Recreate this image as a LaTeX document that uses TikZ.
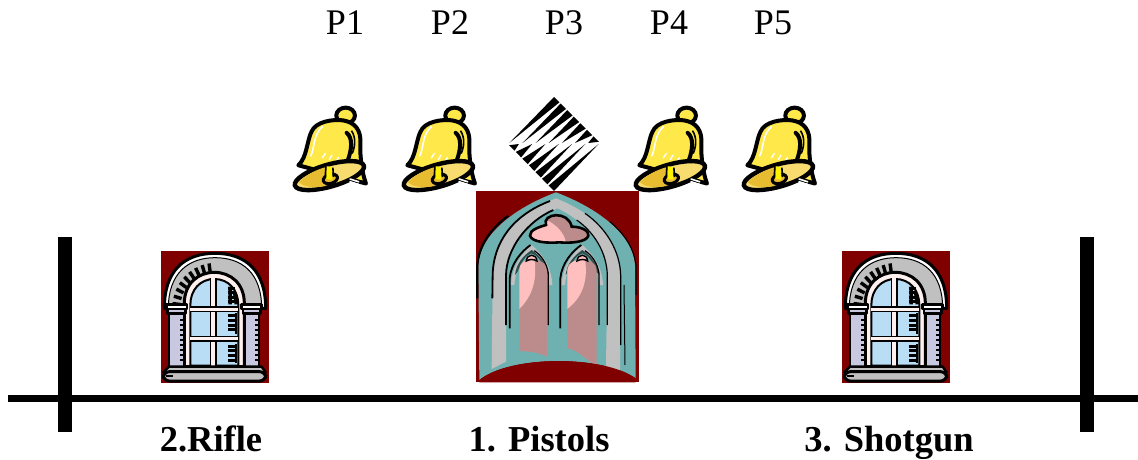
\documentclass[tikz,border=0pt]{standalone}
\usepackage{fontspec}
\setmainfont{Liberation Serif}
\definecolor{wred}{HTML}{800000}
\definecolor{wteal}{HTML}{6FB0B0}
\definecolor{wgrey}{HTML}{C0C0C0}
\definecolor{wrose}{HTML}{BC8C8C}
\definecolor{wpink}{HTML}{FFBFBF}
\definecolor{wsky}{HTML}{B9DDF5}
\definecolor{wcol}{HTML}{C8C8E0}
\definecolor{wframe}{HTML}{FFF0F0}
\definecolor{bellY}{HTML}{FFE84A}
\definecolor{bellD}{HTML}{E8BC30}
\definecolor{bellP}{HTML}{F8DC70}
\tikzset{
  plabel/.style={font=\fontsize{36}{40}\selectfont,anchor=base,inner sep=0pt},
  rangelabel/.style={font=\fontsize{36.5}{40}\selectfont\bfseries,anchor=base,inner sep=0pt},
  axisbar/.style={fill=black,draw=none},
  ink/.style={draw=black,line width=#1,line join=round,line cap=round},
  bell/.pic={
    \begin{scope}[scale=0.345]
      \draw[black,line width=4,fill=bellY] (167,48) ellipse [x radius=27,y radius=23];
      \draw[black,line width=4,line join=round,fill=bellY] (30,192) .. controls (55,170) and (55,120) .. (68,95) .. controls (80,65) and (130,58) .. (160,62) .. controls (195,68) and (212,90) .. (210,130) .. controls (208,170) and (215,215) .. (226,245) -- cycle;
      \draw[white,line width=1.6,line cap=round] (66,165) .. controls (78,140) and (72,105) .. (100,80);
      \foreach \xa/\ya/\xb/\yb in {100/170/108/158,120/175/127/163,140/180/146/170,160/186/165/176}{
        \draw[white,line width=1.4,line cap=round] (\xa,\ya) -- (\xb,\yb);
      }
      \draw[black,line width=4,line cap=round] (170,98) .. controls (188,112) and (185,145) .. (174,176);
      \draw[black,line width=1.6] (184,92) .. controls (198,112) and (194,140) .. (186,158);
      \draw[black,line width=4.4,fill=bellP,rotate around={16:(120,222)}] (120,222) ellipse [x radius=104,y radius=32];
      \fill[bellD,rotate around={16:(120,222)}] (30,216) .. controls (60,198) and (100,194) .. (125,196) -- (100,248) .. controls (70,245) and (40,235) .. (30,216) -- cycle;
      \foreach \yy in {232,240,248}{
        \draw[white,line width=1.6,line cap=round] (180,\yy) -- (205,{\yy+8});
      }
      \draw[black,line width=3,fill=bellD,rotate around={16:(120,222)}] (120,232) ellipse [x radius=21,y radius=13];
      \fill[yellow] (112,195) -- (111,232) -- (129,234) -- (128,198) -- cycle;
      \draw[black,line width=1.6] (110,196) -- (108,224) (130,199) -- (132,226);
    \end{scope}
  },
  smallwin/.pic={
    \begin{scope}[scale=1/3]
      \fill[wred] (18,18) rectangle (341,413);
      \draw[ink=3,fill=white] (28,190) .. controls (28,75) and (90,25) .. (180,25) .. controls (270,25) and (332,75) .. (332,190) -- cycle;
      \draw[ink=1,fill=wgrey] (40,190) .. controls (40,85) and (100,38) .. (180,38) .. controls (262,38) and (320,85) .. (320,190) -- cycle;
      \foreach \a in {0,...,8}{
        \draw[black,line width=3.4,line cap=butt] ({180-128*cos(6+\a*9.5)},{190-136*sin(6+\a*9.5)}) -- ({180-104*cos(6+\a*9.5)},{190-110*sin(6+\a*9.5)});
      }
      \draw[ink=3,fill=wframe] (88,365) -- (88,175) .. controls (88,115) and (130,82) .. (178,82) .. controls (226,82) and (268,115) .. (268,175) -- (268,365) -- cycle;
      \draw[ink=2,fill=wsky] (106,362) -- (106,180) .. controls (106,135) and (135,102) .. (178,102) .. controls (221,102) and (250,135) .. (250,180) -- (250,362) -- cycle;
      \fill[wframe] (168,100) rectangle (182,362);
      \draw[black,line width=1.4] (167,100) -- (167,362) (183,100) -- (183,362);
      \fill[wframe] (106,186) rectangle (250,200);
      \fill[wframe] (106,274) rectangle (250,288);
      \draw[black,line width=1.4] (106,186) -- (250,186) (106,200) -- (250,200) (106,274) -- (250,274) (106,288) -- (250,288);
      \draw[black,line width=3.5] (238,140) .. controls (240,150) and (243,165) .. (244,178) (225,125) -- (225,178);
      \foreach \yy in {130,143,156,169} {\draw[black,line width=3] (218,\yy) -- (240,\yy);}
      \fill[black] (240,205) rectangle (246,266);
      \foreach \yy in {212,226,240,254} {\draw[black,line width=3] (220,\yy) -- (242,\yy);}
      \fill[black] (240,296) rectangle (246,355);
      \foreach \yy in {303,317,331,345} {\draw[black,line width=3] (220,\yy) -- (242,\yy);}
      \foreach \xx/\ww in {42/46,268/44}{
        \draw[ink=2.4,fill=wcol] (\xx,205) rectangle ({\xx+\ww},372);
        \draw[ink=2.4,fill=wcol] ({\xx-4},192) rectangle ({\xx+\ww+4},206);
        \draw[ink=2.4,fill=white] ({\xx-8},178) rectangle ({\xx+\ww+8},192);
      }
      \foreach \yy in {225,240,255,270,285,300,315,330,345}{
        \draw[black,line width=1.6] (76,\yy) -- (88,\yy);
        \draw[black,line width=1.6] (300,\yy) -- (312,\yy);
      }
      \draw[ink=2.4,fill=wgrey] (42,365) -- (320,365) -- (332,382) -- (25,382) -- cycle;
      \draw[ink=3,fill=wgrey,rounded corners=6] (25,380) rectangle (332,408);
      \fill[black] (32,390) rectangle (54,397);
    \end{scope}
  },
  bigwin/.pic={
    \begin{scope}[scale=1/3]
      \fill[wred] (18,18) rectangle (507,592);
      \fill[wteal] (28,585) -- (25,240) .. controls (30,150) and (130,70) .. (258,22) .. controls (385,70) and (490,150) .. (495,240) -- (497,580) .. controls (400,510) and (120,510) .. (28,585) -- cycle;
      \draw[black,line width=2.2] (22,340) -- (22,240) .. controls (27,175) and (70,125) .. (115,92);
      \draw[black,line width=1] (498,330) -- (498,240) .. controls (490,180) and (455,140) .. (420,110);
      \fill[wgrey] (65,552) -- (68,270) .. controls (70,170) and (130,90) .. (258,40) .. controls (385,90) and (448,170) .. (450,270) -- (450,565) -- (408,545) -- (412,270) .. controls (410,190) and (350,110) .. (262,70) .. controls (170,110) and (110,190) .. (108,270) -- (108,530) -- cycle;
      \draw[black,line width=1.8] (67,340) -- (68,270) .. controls (70,170) and (130,90) .. (240,48);
      \draw[black,line width=1.8] (108,420) -- (108,270) .. controls (110,190) and (170,110) .. (250,75);
      \draw[black,line width=1.2] (412,420) -- (412,270) .. controls (410,200) and (370,140) .. (320,105);
      \draw[black,line width=1.2] (452,480) -- (452,270) .. controls (450,200) and (410,130) .. (345,85);
      \draw[black,line width=1] (465,540) -- (462,300);
      % trefoil
      \fill[wpink] (228,120) .. controls (215,85) and (295,75) .. (305,125) .. controls (335,125) and (358,138) .. (355,152) .. controls (350,172) and (300,175) .. (268,172) .. controls (235,175) and (185,172) .. (180,152) .. controls (178,135) and (210,125) .. (228,120) -- cycle;
      \fill[wrose] (232,105) .. controls (245,85) and (295,75) .. (305,125) .. controls (335,125) and (358,138) .. (355,152) .. controls (350,172) and (310,174) .. (288,172) .. controls (283,140) and (255,118) .. (232,105) -- cycle;
      \draw[black,line width=2.6] (228,120) .. controls (215,85) and (295,75) .. (305,125) .. controls (335,125) and (358,138) .. (355,152) .. controls (350,172) and (300,175) .. (268,172) .. controls (235,175) and (185,172) .. (180,152) .. controls (178,135) and (210,125) .. (228,120) -- cycle;
      % lancets
      \foreach \cx/\lb/\rb/\ly/\ry in {185/148/232/498/515,337/292/380/490/542}{
        \fill[wgrey] ({\cx-62},300) .. controls ({\cx-60},245) and ({\cx-30},205) .. (\cx,180) .. controls ({\cx+30},205) and ({\cx+60},245) .. ({\cx+62},300) -- ({\cx+52},300) .. controls ({\cx+48},250) and ({\cx+25},215) .. (\cx,195) .. controls ({\cx-25},215) and ({\cx-48},250) .. ({\cx-52},300) -- cycle;
        \fill[black!55!wteal] ({\cx-50},270) .. controls ({\cx-46},235) and ({\cx-25},212) .. (\cx,195) .. controls ({\cx+25},212) and ({\cx+46},235) .. ({\cx+50},270) -- ({\cx+42},260) .. controls ({\cx+30},225) and ({\cx+15},210) .. (\cx,205) .. controls ({\cx-15},210) and ({\cx-30},225) .. ({\cx-42},260) -- cycle;
        \fill[wrose] (\lb,\ly) -- (\lb,255) .. controls (\lb,235) and ({\cx-20},222) .. (\cx,222) .. controls ({\cx+20},222) and (\rb,235) .. (\rb,255) -- (\rb,\ry) .. controls ({\rb-30},{\ry-14}) and ({\lb+30},{\ly+2}) .. (\lb,\ly) -- cycle;
        \fill[wpink] (\lb,372) -- (\lb,255) .. controls (\lb,235) and ({\cx-20},222) .. ({\cx+8},222) .. controls ({\cx+20},300) and ({\cx-10},345) .. (\lb,372) -- cycle;
        \draw[black,line width=1.4,fill=wpink] ({\cx-16},228) .. controls ({\cx-14},205) and ({\cx+14},205) .. ({\cx+16},228) .. controls ({\cx+5},222) and ({\cx-5},222) .. ({\cx-16},228) -- cycle;
        \draw[black,line width=1.8] ({\cx-66},430) -- ({\cx-66},280) .. controls ({\cx-62},235) and ({\cx-30},198) .. ({\cx-3},180);
        \draw[black,line width=1.2] ({\cx+50},420) -- ({\cx+50},265) .. controls ({\cx+46},235) and ({\cx+28},210) .. ({\cx+8},197);
      }
      \fill[wred] (28,585) .. controls (120,510) and (400,510) .. (497,580) -- (497,592) -- (28,592) -- cycle;
    \end{scope}
  },
}
\begin{document}
\begin{tikzpicture}[x=1pt,y=-1pt]
\useasboundingbox (0,0) rectangle (1138,460);
\fill[white] (0,0) rectangle (1138,460);
% pictures
\pic at (288,99) {bell};
\pic at (397,99) {bell};
\pic at (629,99) {bell};
\pic at (737,99) {bell};
% striped diamond
\foreach \i in {0,...,6}{
  \pgfmathsetmacro{\fa}{(\i+0.0)/7}
  \pgfmathsetmacro{\fb}{(\i+0.82)/7}
  \pgfmathsetmacro{\fc}{(\i+0.1)/7}
  \fill[black] ({554+46*\fa},{97+46*\fa}) -- ({554+46*\fb},{97+46*\fb}) -- ({508+92*\fc},143) -- cycle;
  \fill[black] ({508+46*(\fa+0.18/7)},{144+47*(\fa+0.18/7)}) -- ({508+46*(\fb+0.18/7)},{144+47*(\fb+0.18/7)}) -- ({508+93*(\fc+0.72/7)},144) -- cycle;
}
\pic at (470,185) {bigwin};
\pic at (155,245) {smallwin};
\pic at (836,245) {smallwin};
% axis
\fill[axisbar] (58,237) rectangle (72,432);
\fill[axisbar] (1080,237) rectangle (1094,432);
\fill[axisbar] (8,394.5) rectangle (1138,401.5);
% labels
\node[plabel] (p1) at (345,35) {P1};
\node[plabel] (p2) at (450,35) {P2};
\node[plabel] (p3) at (564,35) {P3};
\node[plabel] (p4) at (669,35) {P4};
\node[plabel] (p5) at (773,35) {P5};
\node[rangelabel] (r2) at (211,451) {2.Rifle};
\node[rangelabel] (r1) at (539,451) {1. Pistols};
\node[rangelabel] (r3) at (889,451) {3. Shotgun};
\end{tikzpicture}
\end{document}
